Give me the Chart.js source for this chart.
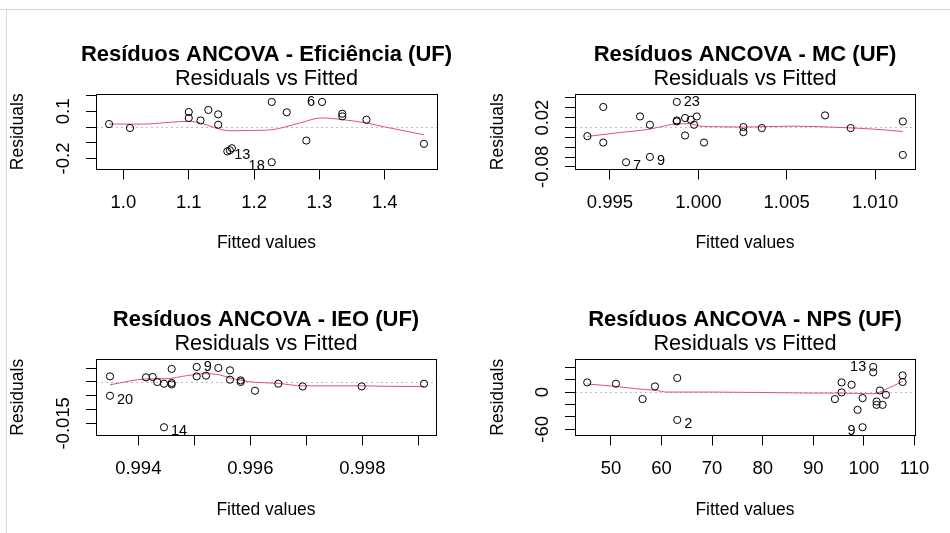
<!DOCTYPE html>
<html>
<head>
<meta charset="utf-8">
<script src="https://cdn.jsdelivr.net/npm/chart.js@4.4.0/dist/chart.umd.min.js"></script>
<style>
  body { margin: 0; background: #fff; }
  #wrap { position: relative; width: 950px; height: 533px; overflow: hidden; background: #fff; }
  #wrap canvas { position: absolute; }
  .rule-top { position: absolute; left: 0; top: 9px; width: 950px; height: 0; border-top: 1px solid #d6d6d6; }
  .rule-left { position: absolute; left: 6px; top: 9px; width: 0; height: 524px; border-left: 1px solid #d6d6d6; }
</style>
</head>
<body>
<div id="wrap">
  <div class="rule-top"></div>
  <div class="rule-left"></div>
  <canvas id="c1" width="478" height="266" style="left:0;top:0"></canvas>
  <canvas id="c2" width="472" height="266" style="left:478px;top:0"></canvas>
  <canvas id="c3" width="478" height="267" style="left:0;top:266px"></canvas>
  <canvas id="c4" width="472" height="267" style="left:478px;top:266px"></canvas>
</div>
<script>
// DATA - Eficiência
const efFitted = [0.978, 1.010, 1.100, 1.100, 1.118, 1.130, 1.145, 1.145, 1.159, 1.163, 1.166, 1.227, 1.227, 1.250, 1.280, 1.304, 1.335, 1.335, 1.372, 1.460];
const efResid  = [0.019, -0.006, 0.096, 0.058, 0.042, 0.109, 0.081, 0.015, -0.155, -0.148, -0.135, 0.160, -0.224, 0.094, -0.086, 0.160, 0.085, 0.068, 0.047, -0.107];
const efIds    = ['', '', '', '', '', '', '', '', '13', '', '', '', '18', '', '', '6', '', '', '', ''];
const efSmoothX = [0.978, 1.031, 1.076, 1.100, 1.118, 1.138, 1.163, 1.194, 1.227, 1.270, 1.303, 1.336, 1.372, 1.401, 1.460];
const efSmoothY = [0.019, 0.019, 0.032, 0.036, 0.026, -0.002, -0.024, -0.022, -0.017, 0.026, 0.058, 0.047, 0.026, 0.000, -0.049];
const efXTicks = [1.0, 1.1, 1.2, 1.3, 1.4];
const efXLabels = ['1.0', '1.1', '1.2', '1.3', '1.4'];
const efYTicks = [-0.2, -0.1, 0, 0.1, 0.2];
const efYLabels = ['-0.2', '', '', '0.1', ''];

// DATA - MC
const mcFitted = [0.99372, 0.99462, 0.99462, 0.99591, 0.99670, 0.99726, 0.99726, 0.99878, 0.99878, 0.99878, 0.99925, 0.99925, 0.99957, 0.99976, 0.99991, 1.00032, 1.00255, 1.00255, 1.00359, 1.00717, 1.00862, 1.01157, 1.01157];
const mcResid  = [-0.0176, 0.0416, -0.0306, -0.0706, 0.0224, 0.0055, -0.0598, 0.0518, 0.0143, 0.0122, 0.0192, -0.0163, 0.0157, 0.0055, 0.0224, -0.0306, 0.0008, -0.0094, -0.0012, 0.0245, -0.0012, 0.0122, -0.0557];
const mcIds    = ['', '', '', '7', '', '', '9', '23', '', '', '', '', '', '', '', '', '', '', '', '', '', '', ''];
const mcSmoothX = [0.99372, 0.99557, 0.99726, 0.99821, 0.99878, 0.99953, 1.00010, 1.00123, 1.00255, 1.00538, 1.00802, 1.00990, 1.01157];
const mcSmoothY = [-0.0182, -0.0102, -0.0033, 0.0041, 0.0076, 0.0076, 0.0027, 0.0014, 0.0008, 0.0027, 0.0000, -0.0033, -0.0082];
const mcXTicks = [0.995, 1.000, 1.005, 1.010];
const mcXLabels = ['0.995', '1.000', '1.005', '1.010'];
const mcYTicks = [-0.08, -0.06, -0.04, -0.02, 0, 0.02, 0.04, 0.06];
const mcYLabels = ['-0.08', '', '', '', '', '0.02', '', ''];

// DATA - IEO
const ieoFitted = [0.993495, 0.993495, 0.994138, 0.994257, 0.994339, 0.994459, 0.994459, 0.994596, 0.994596, 0.994596, 0.995043, 0.995043, 0.995209, 0.995429, 0.995638, 0.995638, 0.995829, 0.995829, 0.996084, 0.996500, 0.996936, 0.997989, 0.999102];
const ieoResid  = [0.00204, -0.00500, 0.00168, 0.00182, 0.00000, -0.00062, -0.01642, 0.00474, -0.00036, -0.00088, 0.00547, 0.00204, 0.00230, 0.00511, 0.00423, 0.00084, 0.00058, 0.00000, -0.00318, -0.00062, -0.00161, -0.00161, -0.00062];
const ieoIds    = ['', '20', '', '', '', '', '14', '', '', '', '9', '', '', '', '', '', '', '', '', '', '', '', ''];
const ieoSmoothX = [0.993495, 0.994150, 0.994507, 0.994864, 0.995191, 0.995429, 0.995638, 0.995829, 0.996084, 0.996500, 0.996930, 0.997989, 0.998554, 0.999102];
const ieoSmoothY = [-0.0010, 0.0011, 0.0012, 0.0023, 0.0030, 0.0027, 0.0015, 0.0006, -0.0001, -0.0005, -0.0014, -0.0014, -0.0016, -0.0016];
const ieoXTicks = [0.994, 0.995, 0.996, 0.997, 0.998, 0.999];
const ieoXLabels = ['0.994', '', '0.996', '', '0.998', ''];
const ieoYTicks = [-0.015, -0.010, -0.005, 0, 0.005];
const ieoYLabels = ['-0.015', '', '', '', ''];

// DATA - NPS
const npsFitted = [45.32, 50.99, 56.26, 58.70, 63.11, 63.11, 94.27, 95.59, 95.59, 97.57, 98.75, 99.74, 99.74, 101.84, 101.84, 102.51, 102.51, 103.16, 103.69, 104.35, 107.65, 107.65];
const npsResid  = [15.6, 13.5, -11.3, 9.1, 22.7, -44.9, -11.3, 15.6, -0.6, 11.8, -28.7, -9.7, -56.7, 40.5, 31.8, -15.2, -20.6, 2.6, -20.6, -4.4, 26.9, 16.2];
const npsIds    = ['', '', '', '', '', '2', '', '', '', '', '', '', '9', '13', '', '', '', '', '', '', '', ''];
const npsSmoothX = [45.32, 50.99, 55.08, 59.03, 61.0, 70.2, 78.8, 90.0, 95.59, 101.84, 104.15, 107.65];
const npsSmoothY = [13.0, 9.1, 5.3, 2.6, 0.0, 0.0, -0.6, -1.6, -1.6, -2.8, 3.7, 17.2];
const npsXTicks = [50, 60, 70, 80, 90, 100, 110];
const npsXLabels = ['50', '60', '70', '80', '90', '100', '110'];
const npsYTicks = [-60, -40, -20, 0, 20, 40];
const npsYLabels = ['-60', '', '', '0', '', ''];

const FONT = "'Liberation Sans', Arial, Helvetica, sans-serif";
const TICK_SIZE = 18.5;
Chart.defaults.font.family = FONT;
Chart.defaults.color = '#000';

const measure = document.createElement('canvas').getContext('2d');
function widest(labels) {
    measure.font = TICK_SIZE + 'px ' + FONT;
    return Math.max(...labels.map(t => measure.measureText(t).width));
}

// box, zero line and id labels, as plot.lm draws them
const rPlot = {
    id: 'rPlot',
    afterLayout(chart) {
        // main title is centred on the plot box but may be wider than it
        const t = chart.titleBlock;
        if (t) { t.left -= 40; t.right += 40; t.width += 80; }
    },
    beforeDatasetsDraw(chart) {
        const {ctx, chartArea: a, scales: {y}} = chart;
        const py = Math.round(y.getPixelForValue(0)) + 0.5;
        ctx.save();
        ctx.strokeStyle = '#bebebe';
        ctx.lineWidth = 1;
        ctx.setLineDash([2, 3]);
        ctx.beginPath();
        ctx.moveTo(a.left, py);
        ctx.lineTo(a.right, py);
        ctx.stroke();
        ctx.restore();
    },
    afterDatasetsDraw(chart, args, opts) {
        const {ctx, chartArea: a} = chart;
        ctx.save();
        ctx.strokeStyle = '#000';
        ctx.lineWidth = 1;
        ctx.strokeRect(Math.round(a.left) + 0.5, Math.round(a.top) + 0.5, Math.round(a.width), Math.round(a.height));
        const pts = chart.data.datasets[0].data;
        const meta = chart.getDatasetMeta(0);
        const xs = pts.map(p => p.x);
        const mid = (Math.min(...xs) + Math.max(...xs)) / 2;
        ctx.font = '14.5px ' + FONT;
        ctx.fillStyle = '#000';
        ctx.textBaseline = 'middle';
        opts.ids.forEach((t, i) => {
            if (!t) return;
            const el = meta.data[i];
            const left = pts[i].x > mid;
            ctx.textAlign = left ? 'right' : 'left';
            ctx.fillText(t, el.x + (left ? -7 : 7), el.y + (pts[i].y < 0 ? 4 : 0));
        });
        ctx.restore();
    }
};

function panel(id, p) {
    const pts = p.fitted.map((v, i) => ({x: v, y: p.resid[i]}));
    const smooth = p.sx.map((v, i) => ({x: v, y: p.sy[i]}));
    new Chart(document.getElementById(id), {
        type: 'scatter',
        data: {
            datasets: [{
                data: pts,
                pointRadius: 3.6,
                borderWidth: 1,
                borderColor: '#000',
                backgroundColor: 'rgba(0,0,0,0)'
            }, {
                data: smooth,
                showLine: true,
                pointRadius: 0,
                borderColor: '#DF536B',
                borderWidth: 1,
                cubicInterpolationMode: 'monotone'
            }]
        },
        plugins: [rPlot],
        options: {
            responsive: false,
            animation: false,
            events: [],
            layout: {padding: {left: 0, right: p.padRight, top: 0, bottom: 0}},
            plugins: {
                legend: {display: false},
                tooltip: {enabled: false},
                rPlot: {ids: p.ids},
                title: {
                    display: true, text: p.title, fullSize: false, color: '#000',
                    font: {size: 22, weight: 'bold', lineHeight: 1.1},
                    padding: {top: p.titleTop, bottom: 0}
                },
                subtitle: {
                    display: true, text: 'Residuals vs Fitted', fullSize: false, color: '#000',
                    font: {size: 21.7, lineHeight: 1.1},
                    padding: {top: 0, bottom: p.subBottom}
                }
            },
            scales: {
                x: {
                    type: 'linear', min: p.xmin, max: p.xmax,
                    afterBuildTicks: s => { s.ticks = p.xt.map(v => ({value: v})); },
                    afterFit: s => { s.height = p.xH; },
                    ticks: {autoSkip: false, maxRotation: 0, padding: 12.5, font: {size: TICK_SIZE}, color: '#000',
                        callback: (v, i) => p.xl[i]},
                    grid: {drawOnChartArea: false, tickLength: 10, color: '#000'},
                    border: {display: false},
                    title: {display: true, text: 'Fitted values', color: '#000', font: {size: 17.5},
                        padding: {top: 0, bottom: 12}}
                },
                y: {
                    type: 'linear', min: p.ymin, max: p.ymax,
                    afterBuildTicks: s => { s.ticks = p.yt.map(v => ({value: v})); },
                    afterFit: s => { s.width = p.yW; },
                    ticks: {minRotation: 90, maxRotation: 90, crossAlign: 'center', autoSkip: false,
                        padding: 22 - widest(p.yl) / 2, font: {size: TICK_SIZE}, color: '#000',
                        callback: (v, i) => p.yl[i]},
                    grid: {drawOnChartArea: false, tickLength: 10, color: '#000'},
                    border: {display: false},
                    title: {display: true, text: 'Residuals', color: '#000', font: {size: 17.5},
                        padding: {top: p.yTitlePad, bottom: 0}}
                }
            }
        }
    });
}

panel('c1', {
    title: 'Resíduos ANCOVA - Eficiência (UF)',
    fitted: efFitted, resid: efResid, ids: efIds, sx: efSmoothX, sy: efSmoothY,
    xt: efXTicks, xl: efXLabels, yt: efYTicks, yl: efYLabels,
    xmin: 0.958, xmax: 1.480, ymin: -0.2705, ymax: 0.2103,
    padRight: 41, yW: 96, xH: 96.5, titleTop: 42.7, subBottom: 3.3, yTitlePad: 8
});
panel('c2', {
    title: 'Resíduos ANCOVA - MC (UF)',
    fitted: mcFitted, resid: mcResid, ids: mcIds, sx: mcSmoothX, sy: mcSmoothY,
    xt: mcXTicks, xl: mcXLabels, yt: mcYTicks, yl: mcYLabels,
    xmin: 0.99302, xmax: 1.01226, ymin: -0.0853, ymax: 0.0678,
    padRight: 35, yW: 97, xH: 96.5, titleTop: 42.7, subBottom: 3.3, yTitlePad: 9.5
});
panel('c3', {
    title: 'Resíduos ANCOVA - IEO (UF)',
    fitted: ieoFitted, resid: ieoResid, ids: ieoIds, sx: ieoSmoothX, sy: ieoSmoothY,
    xt: ieoXTicks, xl: ieoXLabels, yt: ieoYTicks, yl: ieoYLabels,
    xmin: 0.993245, xmax: 0.999316, ymin: -0.01942, ymax: 0.00832,
    padRight: 42, yW: 96, xH: 97.5, titleTop: 42.2, subBottom: 2.8, yTitlePad: 8
});
panel('c4', {
    title: 'Resíduos ANCOVA - NPS (UF)',
    fitted: npsFitted, resid: npsResid, ids: npsIds, sx: npsSmoothX, sy: npsSmoothY,
    xt: npsXTicks, xl: npsXLabels, yt: npsYTicks, yl: npsYLabels,
    xmin: 42.9, xmax: 110.1, ymin: -70.0, ymax: 53.2,
    padRight: 35, yW: 97, xH: 97.5, titleTop: 42.2, subBottom: 2.8, yTitlePad: 9.5
});
</script>
</body>
</html>
